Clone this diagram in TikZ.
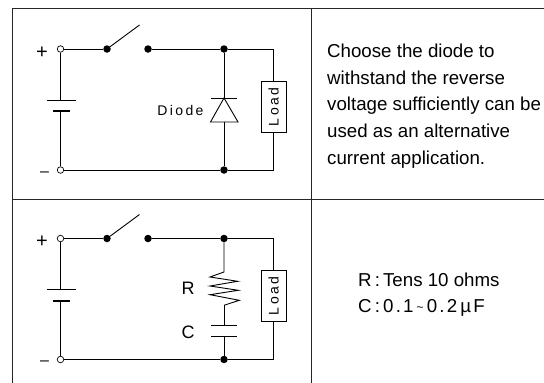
\documentclass[tikz,border=0pt]{standalone}
\usepackage{fontspec}
\setmainfont{Liberation Sans}
\newfontfamily\trackfont[LetterSpace=17]{Liberation Sans}
\newfontfamily\notetrack[LetterSpace=12]{Liberation Sans}
\usetikzlibrary{shapes.geometric}

\begin{document}
\begin{tikzpicture}
[x=1pt,y=-1pt]
\tikzset{
	wire/.style = {line width=0.9pt},
	rule/.style = {line width=0.9pt, black!85},
	term/.style = {circle, draw, fill = white, inner sep = 0, minimum size = 6.5pt, line width=0.7pt},
	junction/.style = {circle, fill = black, inner sep = 0, minimum size = 7.5pt},
	loadbox/.style = {draw, fill = white, line width=0.9pt, rotate = 90, minimum width = 51pt, minimum height = 24.5pt, inner sep = 0, font = \trackfont\fontsize{14}{16}\selectfont},
	polarity/.style = {inner sep = 0, font = \fontsize{20}{22}\selectfont},
	negative/.style = {inner sep = 0, font = \fontsize{16}{18}\selectfont},
	partname/.style = {inner sep = 0, font = \fontsize{18}{20}\selectfont},
	note/.style = {inner sep = 0, align = left, anchor = north west, font = \fontsize{18.7}{26.8}\selectfont}
}
\useasboundingbox (0,0) rectangle (544,383);

% table
\coordinate (tl) at (12,8);
\coordinate (tr) at (544,8);
\coordinate (tm) at (311.5,8);
\coordinate (bl) at (12,383);
\coordinate (bm) at (311.5,383);
\coordinate (ml) at (12,199);
\coordinate (mr) at (544,199);
\draw[rule] (tl) -- (tr);
\draw[rule] (tl) -- (bl);
\draw[rule] (tm) -- (bm);
\draw[rule] (ml) -- (mr);

% upper circuit
\node (plus1) [term] at (60.5,49) {};
\node (minus1) [term] at (60.5,170) {};
\node (sw1a) [junction] at (107,49) {};
\node (sw1b) [junction] at (148,49) {};
\node (top1) [junction] at (224,49) {};
\node (bot1) [junction] at (224,170) {};
\node (load1) [loadbox] at (273.7,107) {Load};
\coordinate (lever1) at (139.5,25);
\coordinate (corner1a) at (273.7,49);
\coordinate (corner1b) at (273.7,170);
\coordinate (batt1a) at (60.5,100);
\coordinate (batt1b) at (60.5,111);
\coordinate (diode1a) at (224,98);
\coordinate (diode1b) at (224,122);
\node (plussign1) [polarity] at (42,52.5) {+};
\node (minussign1) [negative] at (44.5,174.5) {–};
\node (diodename) [inner sep = 0, font = \trackfont\fontsize{14}{16}\selectfont] at (180.5,110) {Diode};

\draw[wire] (plus1) -- (sw1a);
\draw[wire] (sw1a) -- (lever1);
\draw[wire] (sw1b) -- (top1);
\draw[wire] (top1) -- (corner1a) -- (load1);
\draw[wire] (load1) -- (corner1b) -- (bot1);
\draw[wire] (bot1) -- (minus1);
\draw[wire] (plus1) -- (batt1a);
\draw[wire] (batt1b) -- (minus1);
\draw[wire] (47,100) -- (76,100);
\draw[line width=2pt] (53,111) -- (70,111);
\draw[wire] (top1) -- (diode1a);
\draw[wire] (diode1b) -- (bot1);
\draw[wire] (211,98) -- (237,98);
\draw[wire] (diode1a) -- (238,122) -- (210.5,122) -- cycle;

\node (note1) [note] at (327,43.5) {Choose the diode to\\withstand the reverse\\voltage sufficiently can be\\used as an alternative\\current application.};

% lower circuit
\node (plus2) [term] at (60.5,238.5) {};
\node (minus2) [term] at (60.5,359.5) {};
\node (sw2a) [junction] at (107,238.5) {};
\node (sw2b) [junction] at (148,238.5) {};
\node (top2) [junction] at (224,238.5) {};
\node (bot2) [junction] at (224,359.5) {};
\node (load2) [loadbox] at (273.7,296) {Load};
\coordinate (lever2) at (139.5,214.5);
\coordinate (corner2a) at (273.7,238.5);
\coordinate (corner2b) at (273.7,359.5);
\coordinate (batt2a) at (60.5,289.7);
\coordinate (batt2b) at (60.5,300.5);
\coordinate (res2a) at (224,272);
\coordinate (res2b) at (224,305.3);
\coordinate (cap2a) at (224,325.7);
\coordinate (cap2b) at (224,336.7);
\node (plussign2) [polarity] at (42,242) {+};
\node (minussign2) [negative] at (44.5,363.5) {–};
\node (rname) [partname] at (188,288.5) {R};
\node (cname) [partname] at (188,332) {C};

\draw[wire] (plus2) -- (sw2a);
\draw[wire] (sw2a) -- (lever2);
\draw[wire] (sw2b) -- (top2);
\draw[wire] (top2) -- (corner2a) -- (load2);
\draw[wire] (load2) -- (corner2b) -- (bot2);
\draw[wire] (bot2) -- (minus2);
\draw[wire] (plus2) -- (batt2a);
\draw[wire] (batt2b) -- (minus2);
\draw[wire] (47,289.7) -- (76,289.7);
\draw[line width=2pt] (53,300.5) -- (70,300.5);
\draw[wire] (top2) -- (res2a) -- (210,277) -- (237.7,281.3) -- (210,286) -- (238.3,290.3) -- (210,294.7) -- (239.3,300.3) -- (res2b);
\draw[wire] (res2b) -- (cap2a);
\draw[wire] (cap2b) -- (bot2);
\draw[wire] (211,325.7) -- (237,325.7);
\draw[wire] (211,336.7) -- (237,336.7);

\node (note2) [note] at (358,272.4) {R\,:\,Tens 10 ohms\\{\notetrack C\,:\,0.1\,{\fontsize{12}{12}\selectfont\raisebox{1pt}{\textasciitilde}}\,0.2\,µF}};

\end{tikzpicture}
\end{document}
